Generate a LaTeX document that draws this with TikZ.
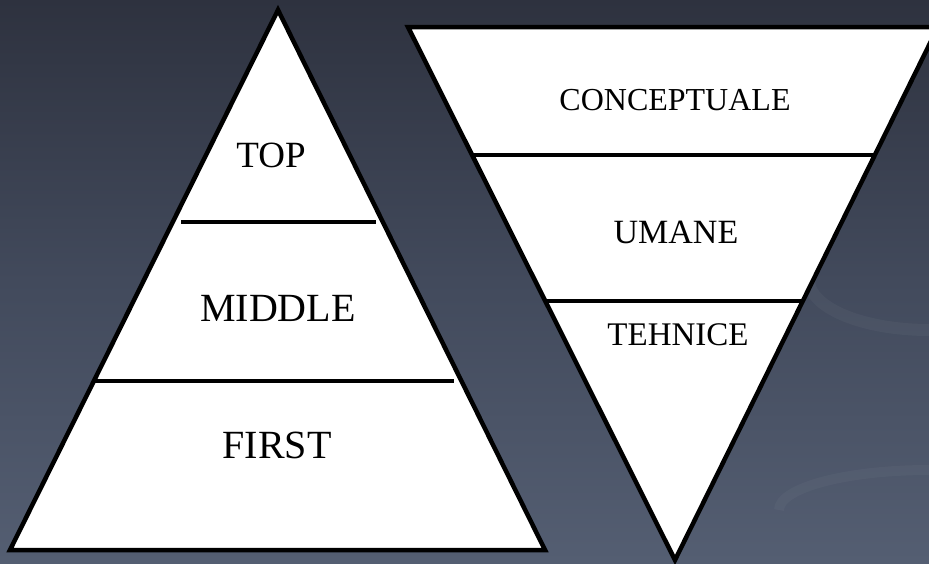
\documentclass[tikz,border=0pt]{standalone}
\usepackage{fontspec}
\setmainfont{Liberation Serif}
\begin{document}
\begin{tikzpicture}[x=1pt,y=-1pt,
  tri/.style={draw=black,fill=white,line width=4.5pt,line join=miter},
  divider/.style={draw=black,line width=4.5pt},
  lbl/.style={font=\fontsize{#1}{#1}\selectfont,text=black,inner sep=0pt}]
\useasboundingbox (0,0) rectangle (929,563);
\clip (0,0) rectangle (929,563);
\shade[top color={rgb,255:red,46;green,50;blue,63},bottom color={rgb,255:red,84;green,94;blue,114},middle color={rgb,255:red,66;green,74;blue,92}] (0,0) rectangle (929,563);
\draw[white,opacity=0.035,line width=12pt] (929,330) arc[start angle=90,end angle=200,x radius=120,y radius=50];
\draw[white,opacity=0.03,line width=10pt] (929,470) arc[start angle=270,end angle=180,x radius=150,y radius=40];
% left pyramid
\draw[tri] (278,10) -- (545,550) -- (10,550) -- cycle;
\coordinate (l1a) at (181,222); \coordinate (l1b) at (376,222);
\coordinate (l2a) at (94,381);  \coordinate (l2b) at (454,381);
\draw[divider] (l1a) -- (l1b);
\draw[divider] (l2a) -- (l2b);
\node[lbl=37] (top) at (271,155) {TOP};
\node[lbl=40] (middle) at (278,308) {MIDDLE};
\node[lbl=40] (first) at (277,445) {FIRST};
% right inverted pyramid
\draw[tri] (408,27) -- (938,27) -- (675,560) -- cycle;
\coordinate (r1a) at (472,155); \coordinate (r1b) at (875,155);
\coordinate (r2a) at (545,301); \coordinate (r2b) at (803,301);
\draw[divider] (r1a) -- (r1b);
\draw[divider] (r2a) -- (r2b);
\node[lbl=32] (conc) at (675,100) {CONCEPTUALE};
\node[lbl=34] (umane) at (676,232) {UMANE};
\node[lbl=33] (tehn) at (678,335) {TEHNICE};
\end{tikzpicture}
\end{document}
